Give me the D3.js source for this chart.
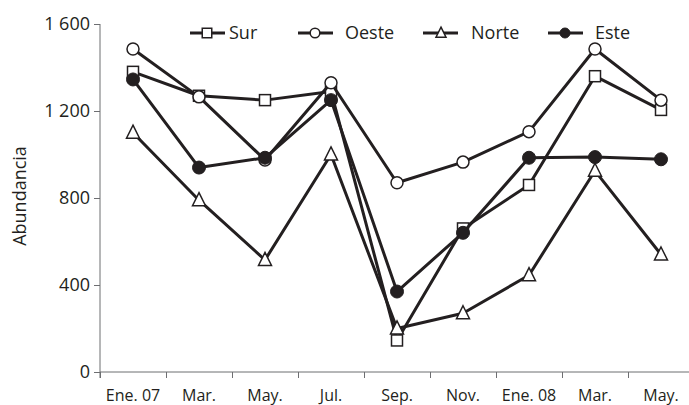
<!DOCTYPE html>
<html><head><meta charset="utf-8">
<script src="https://cdn.jsdelivr.net/npm/d3@7"></script>
<style>
body{margin:0;background:#fff}
svg text{font-family:"Open Sans",sans-serif;fill:#231f20}
</style>
</head><body><svg id="c" width="689" height="405"></svg>
<script>
const categories = ["Ene. 07","Mar.","May.","Jul.","Sep.","Nov.","Ene. 08","Mar.","May."];
const yTicks = [0,400,800,1200,1600];
const seriesNames = ["Sur","Oeste","Norte","Este"];
const sur   = [1380,1270,1250,1290,145,660,860,1360,1205];
const oeste = [1485,1265,975,1330,870,965,1105,1485,1250];
const norte = [1100,790,515,1000,200,270,445,925,540];
const este  = [1345,940,985,1250,370,640,985,988,978];

const dark = "#231f20", axisCol = "#6d6e71";
const svg = d3.select("#c");
const idx = d3.range(categories.length);
const x = d3.scaleBand().domain(idx).range([100,694]).paddingInner(0).paddingOuter(0);
const xb = d3.scaleLinear().domain([0,categories.length]).range([100,694]);
const y = d3.scaleLinear().domain([0,1600]).range([372,24]);
const cx = i => x(i) + x.bandwidth()/2;
const fmt = d3.formatLocale({decimal:",",thousands:"\u00a0",grouping:[3],currency:["",""]}).format(",d");

// x axis boundary ticks
const gx = svg.append("g").attr("transform","translate(0,372)")
  .call(d3.axisBottom(xb).tickValues(d3.range(categories.length+1)).tickSize(6).tickSizeOuter(0).tickFormat(""));
gx.select(".domain").attr("stroke",axisCol).attr("d","M100,0H689");
gx.selectAll(".tick line").attr("stroke",axisCol);
// x labels
const gxl = svg.append("g").attr("transform","translate(0,372)")
  .call(d3.axisBottom(x).tickSize(0).tickPadding(0).tickFormat(i => categories[i]));
gxl.select(".domain").remove();
gxl.selectAll("text").attr("font-size",16).attr("dy",null).attr("y",28.5).style("font-family","'Open Sans',sans-serif").attr("fill",dark);

// y axis
const gy = svg.append("g").attr("transform","translate(100,0)")
  .call(d3.axisLeft(y).tickValues(yTicks).tickSize(6).tickPadding(4).tickSizeOuter(0).tickFormat(fmt));
gy.select(".domain").attr("stroke",axisCol).attr("d","M0,24V378");
gy.selectAll(".tick line").attr("stroke",axisCol);
gy.selectAll("text").attr("font-size",18).style("font-family","'Open Sans',sans-serif").attr("fill",dark);

svg.append("text").attr("transform","translate(26,196) rotate(-90)")
  .attr("text-anchor","middle").attr("font-size",18).text("Abundancia");

const tri = s => `M0,${-s*0.58}L${s/2},${s*0.42}L${-s/2},${s*0.42}Z`;
function marker(g, type, px, py, big){
  if(type==="Sur"){
    const s = big?11:9.5;
    g.append("rect").attr("x",px-s/2).attr("y",py-s/2).attr("width",s).attr("height",s)
      .attr("fill","#fff").attr("stroke",dark).attr("stroke-width",1.5);
  } else if(type==="Oeste"){
    g.append("circle").attr("cx",px).attr("cy",py).attr("r",big?6:4.8)
      .attr("fill","#fff").attr("stroke",dark).attr("stroke-width",1.5);
  } else if(type==="Norte"){
    g.append("path").attr("d",tri(big?13:10)).attr("transform",`translate(${px},${py})`)
      .attr("fill","#fff").attr("stroke",dark).attr("stroke-width",1.5);
  } else {
    g.append("circle").attr("cx",px).attr("cy",py).attr("r",big?6.5:5)
      .attr("fill",dark).attr("stroke",dark).attr("stroke-width",1);
  }
}

const allSeries = [sur,oeste,norte,este];
const line = d3.line().x((d,i)=>cx(i)).y(d=>y(d));
allSeries.forEach((vals,k)=>{
  const g = svg.append("g");
  g.append("path").datum(vals).attr("d",line).attr("fill","none")
    .attr("stroke",dark).attr("stroke-width",3).attr("stroke-linejoin","round");
  vals.forEach((v,i)=>marker(g, seriesNames[k], cx(i), y(v), true));
});

// legend
const leg = [
  {x0:190,x1:225,m:207,t:229},
  {x0:298,x1:333,m:315,t:345},
  {x0:423,x1:458,m:441,t:471},
  {x0:548,x1:583,m:565,t:595}
];
const ly = 33;
leg.forEach((l,k)=>{
  const g = svg.append("g");
  g.append("line").attr("x1",l.x0).attr("x2",l.x1).attr("y1",ly).attr("y2",ly)
    .attr("stroke",dark).attr("stroke-width",3);
  marker(g, seriesNames[k], l.m, ly, false);
  g.append("text").attr("x",l.t).attr("y",ly).attr("dy","0.36em").attr("font-size",18).text(seriesNames[k]);
});
</script></body></html>
